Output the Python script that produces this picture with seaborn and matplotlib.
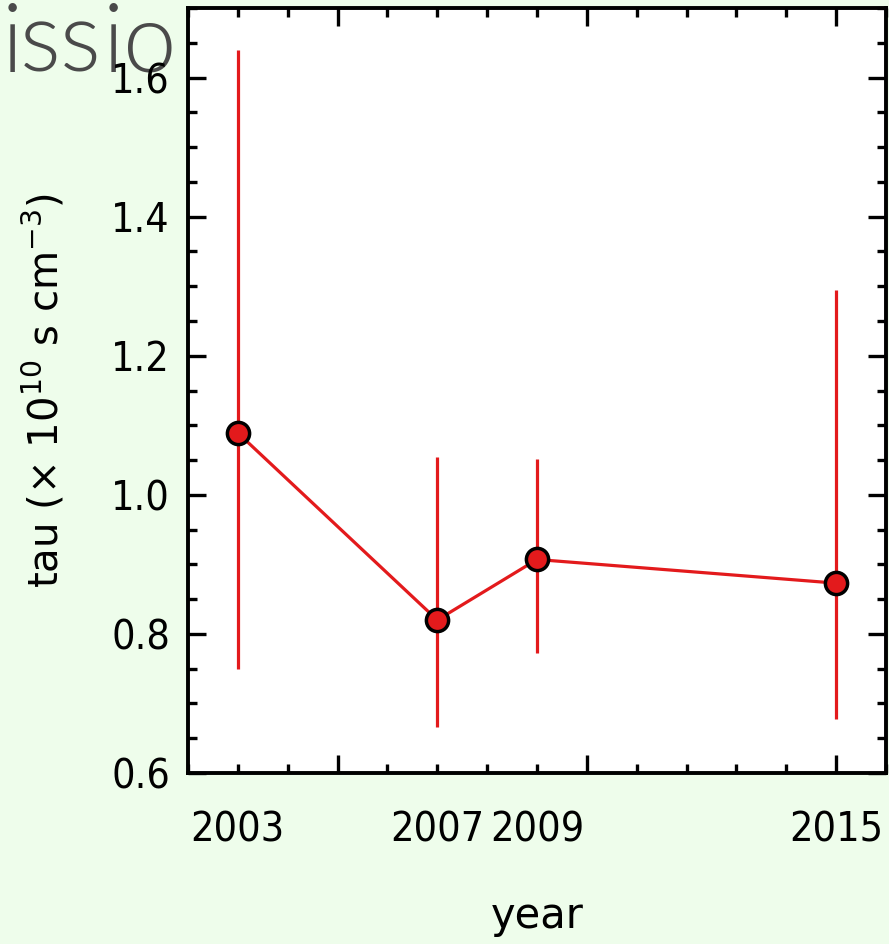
import matplotlib
matplotlib.use("Agg")
import matplotlib.pyplot as plt
from matplotlib import font_manager as fm
from matplotlib.ticker import MultipleLocator, NullFormatter, FormatStrFormatter
import numpy as np
import pandas as pd
import seaborn as sns

# Ionisation timescale per observing epoch (value, lower and upper bound)
years = [2003, 2007, 2009, 2015]
tau = [1.089, 0.820, 0.907, 0.873]
tau_low = [0.750, 0.666, 0.773, 0.678]
tau_high = [1.639, 1.055, 1.052, 1.294]
year_labels = ["2003", "2007", "2009", "2015"]

df = pd.DataFrame({"year": years, "tau": tau, "low": tau_low, "high": tau_high})

RED = "#E31A1C"
BG = "#EEFDEB"

sns.set_theme(style="ticks")
plt.rcParams["font.family"] = ["DejaVu Sans"]
plt.rcParams["mathtext.default"] = "regular"


def narrow_font():
    """Pick a narrow sans face for the numeric tick labels."""
    for f in fm.fontManager.ttflist:
        if f.fname.endswith("LiberationSansNarrow-Regular.ttf"):
            return fm.FontProperties(fname=f.fname), 33.0
    for f in fm.fontManager.ttflist:
        if f.fname.endswith("DejaVuSansCondensed.ttf"):
            return fm.FontProperties(fname=f.fname), 29.5
    return fm.FontProperties(family="DejaVu Sans", stretch="condensed"), 27.0


def light_font():
    """A light-weight sans face for the slide heading."""
    best, best_score = None, None
    for rank, fam in enumerate(["Lato", "Open Sans", "Noto Sans", "Roboto", "Inter"]):
        for f in fm.fontManager.ttflist:
            if f.name != fam or f.style != "normal":
                continue
            w = f.weight if isinstance(f.weight, int) else fm.weight_dict.get(f.weight, 400)
            if w < 250:
                continue
            score = abs(w - 300) * 10 + rank
            if best_score is None or score < best_score:
                best, best_score = f, score
    if best is None:
        return fm.FontProperties(family="DejaVu Sans", weight="light")
    return fm.FontProperties(fname=best.fname)


tick_fp, tick_size = narrow_font()
tick_fp.set_size(tick_size)
head_fp = light_font()
head_fp.set_size(69)

fig = plt.figure(figsize=(8.89, 9.44), dpi=100, facecolor=BG)

# large slide heading sitting behind the plot panel
head_x = [2, 20, 60, 103, 123, 181]
for ch, px in zip("ission", head_x):
    fig.text(px / 889, 1 - 72 / 944, ch, fontproperties=head_fp,
             color="#4a4a4a", va="baseline", ha="left", zorder=-5)

ax = fig.add_axes([188 / 889, 1 - 773 / 944, 698 / 889, 765 / 944])
ax.set_facecolor("white")

yerr = np.array([df["tau"] - df["low"], df["high"] - df["tau"]])
ax.errorbar(df["year"], df["tau"], yerr=yerr, fmt="none", ecolor=RED,
            elinewidth=2.3, capsize=0, zorder=2)
sns.lineplot(data=df, x="year", y="tau", color=RED, linewidth=2.3,
             marker="o", markersize=16, markerfacecolor=RED,
             markeredgecolor="black", markeredgewidth=2.5, zorder=3, ax=ax)

ax.set_xlim(2002, 2016)
ax.set_ylim(0.6, 1.7)
ax.xaxis.set_major_locator(MultipleLocator(5))
ax.xaxis.set_minor_locator(MultipleLocator(1))
ax.xaxis.set_major_formatter(NullFormatter())
ax.yaxis.set_major_locator(MultipleLocator(0.2))
ax.yaxis.set_minor_locator(MultipleLocator(0.05))
ax.yaxis.set_major_formatter(FormatStrFormatter("%.1f"))

ax.tick_params(which="both", direction="in", top=True, right=True,
               width=2.4, color="black")
ax.tick_params(which="major", length=13)
ax.tick_params(which="minor", length=6.5)
ax.tick_params(axis="y", which="major", pad=13, labelcolor="black")
for lbl in ax.get_yticklabels():
    lbl.set_fontproperties(tick_fp)

for sp in ax.spines.values():
    sp.set_linewidth(2.8)
    sp.set_color("black")

# year labels at the observation epochs
sec = ax.secondary_xaxis("bottom")
sec.set_xticks(years, labels=year_labels)
sec.tick_params(length=0, pad=27, labelcolor="black")
sec.spines["bottom"].set_visible(False)
for lbl in sec.get_xticklabels():
    lbl.set_fontproperties(tick_fp)

ax.set_xlabel("year", fontsize=30, color="black")
ax.xaxis.set_label_coords(0.5, -0.16)
ax.set_ylabel("tau (× 10$^{10}$ s cm$^{-3}$)", fontsize=29, color="black")
ax.yaxis.set_label_coords(-0.172, 0.5)

fig.savefig("out.png", dpi=100, facecolor=BG)
